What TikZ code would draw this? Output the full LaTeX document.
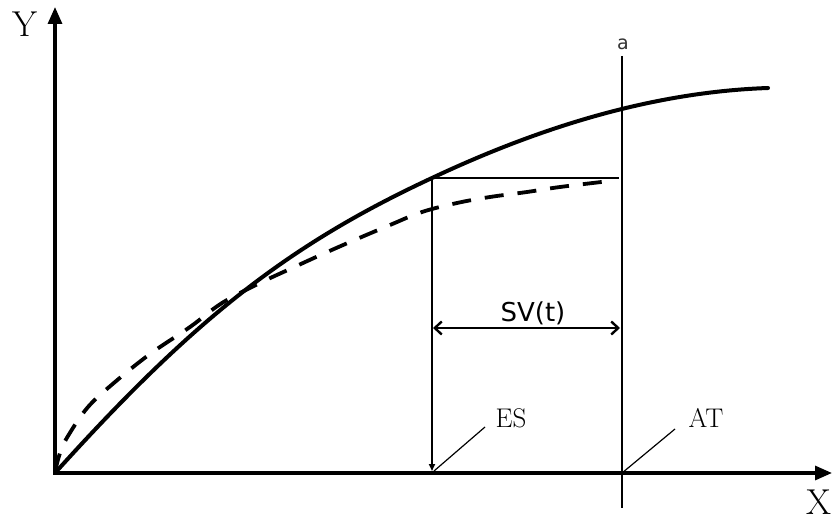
\documentclass[tikz,border=0pt]{standalone}
\usepackage{fontspec}
\newfontfamily\labsans{DejaVu Sans}
\usetikzlibrary{arrows.meta}
\begin{document}
\begin{tikzpicture}[x=1pt,y=-1pt,
  axis/.style={line width=3.2pt, line join=miter, {Triangle[width=14pt,length=17pt]}-{Triangle[width=14pt,length=17pt]}},
  curve/.style={line width=4pt, line cap=round},
  dashcurve/.style={line width=3.8pt, dash pattern=on 19pt off 14pt},
  thinline/.style={line width=1.6pt},
  leader/.style={line width=1.2pt},
  serlab/.style={font=\fontsize{27}{30}\selectfont, anchor=base, inner sep=0pt},
  axlab/.style={font=\fontsize{36}{40}\selectfont, anchor=base, inner sep=0pt},
  sanslab/.style={font=\labsans\fontsize{26}{30}\selectfont, anchor=base, inner sep=0pt}
]
\useasboundingbox (0,0) rectangle (833,521);

% axes
\coordinate (O) at (55,473);
\coordinate (Ytip) at (55,7);
\coordinate (Xtip) at (832,473);
\draw[axis] (Ytip) -- (O) -- (Xtip);
\node[axlab] (ylab) at (25,37) {Y};
\node[axlab, anchor=base east] (xlab) at (832,514) {X};

% vertical line a
\coordinate (atop) at (622,56);
\coordinate (abot) at (622,508);
\draw[thinline] (atop) -- (abot);
\node[font=\labsans\fontsize{19}{22}\selectfont, anchor=base, inner sep=0pt, text=black!80] (alab) at (623,50) {a};

% key points
\coordinate (P) at (432,178);
\coordinate (Pb) at (432,471);
\coordinate (Q) at (619,178);
\coordinate (E) at (768,88);

% solid curve
\draw[curve] (O) .. controls (194,319) and (288,245) .. (P)
                 .. controls (553,121) and (664,91.6) .. (E);

% dashed curve
\draw[dashcurve] plot[smooth, tension=0.6] coordinates {(55,472) (60,453) (68,436) (88,407) (115,382) (150,354) (190,327) (222,303) (260,283) (290,269) (325,253) (357,239) (390,225) (422,212) (457,203) (490,197) (527,192) (560,187) (610,181)};

% ES construction
\draw[thinline] (P) -- (Q);
\draw[thinline, -{Triangle[width=6pt,length=7pt]}] (P) -- (Pb);

% SV(t) arrow
\coordinate (svL) at (433,328);
\coordinate (svR) at (620,328);
\draw[line width=2.4pt, {Straight Barb[width=13pt,length=7pt]}-{Straight Barb[width=13pt,length=7pt]}] (svL) -- (svR);
\node[sanslab] (svlab) at (533,322) {SV(t)};

% ES and AT labels
\node[serlab] (es) at (511,427) {ES};
\node[serlab] (at) at (706,427) {AT};
\coordinate (esA) at (434,471);
\coordinate (esB) at (485,427);
\coordinate (atA) at (622,473);
\coordinate (atB) at (675,429);
\draw[leader] (esA) -- (esB);
\draw[leader] (atA) -- (atB);
\end{tikzpicture}
\end{document}
